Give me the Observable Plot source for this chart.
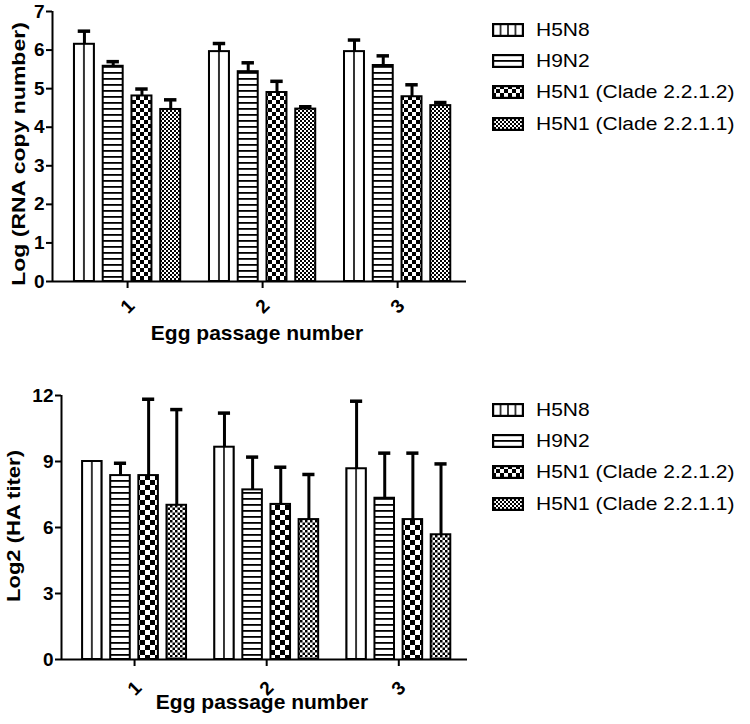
<!DOCTYPE html>
<html>
<head>
<meta charset="utf-8">
<script src="https://cdn.jsdelivr.net/npm/d3@7"></script>
<script src="https://cdn.jsdelivr.net/npm/@observablehq/plot@0.6"></script>
<style>
  html, body { margin: 0; padding: 0; background: #fff; }
  #wrap { position: relative; width: 750px; height: 724px; background: #fff; overflow: hidden; font-family: "Liberation Sans", Arial, sans-serif; color: #000; }
  .abs { position: absolute; }
  .xtitle { font-weight: bold; white-space: nowrap; line-height: 1; transform: translateX(-50%); }
  .ytitle { font-weight: bold; white-space: nowrap; line-height: 1; transform: translate(-50%, -50%) rotate(-90deg) scaleY(0.82); }
  .legend { font-size: 21px; }
  .legend .row { display: flex; align-items: center; height: 31.3px; white-space: pre; }
  .legend .row span { display: inline-block; transform: scaleY(0.86); transform-origin: 0 50%; }
  .legend svg { margin-right: 12px; flex: none; }
</style>
</head>
<body>
<div id="wrap">
  <svg class="abs" width="0" height="0" style="left:0;top:0">
    <defs>
      <pattern id="vl" patternUnits="objectBoundingBox" patternContentUnits="objectBoundingBox" x="0" y="0" width="0.5" height="1">
        <rect width="0.5" height="1" fill="#fff"/>
        <rect x="0" width="0.04" height="1" fill="#000"/>
        <rect x="0.46" width="0.04" height="1" fill="#000"/>
      </pattern>
      <pattern id="vl4" patternUnits="objectBoundingBox" patternContentUnits="objectBoundingBox" x="0" y="0" width="0.25" height="1">
        <rect width="0.25" height="1" fill="#fff"/>
        <rect x="0" width="0.025" height="1" fill="#000"/>
        <rect x="0.225" width="0.025" height="1" fill="#000"/>
      </pattern>
      <pattern id="hl" patternUnits="userSpaceOnUse" x="0" y="0" width="8" height="6">
        <rect width="8" height="6" fill="#fff"/>
        <rect y="0" width="8" height="1.8" fill="#000"/>
      </pattern>
      <pattern id="ck8" patternUnits="userSpaceOnUse" x="0" y="0" width="8" height="8">
        <rect width="8" height="8" fill="#fff"/>
        <rect x="0" y="0" width="4" height="4" fill="#000"/>
        <rect x="4" y="4" width="4" height="4" fill="#000"/>
      </pattern>
      <pattern id="ck10" patternUnits="userSpaceOnUse" x="0" y="0" width="10" height="10">
        <rect width="10" height="10" fill="#fff"/>
        <rect x="0" y="0" width="5" height="5" fill="#000"/>
        <rect x="5" y="5" width="5" height="5" fill="#000"/>
      </pattern>
      <pattern id="fc4" patternUnits="userSpaceOnUse" x="0" y="0" width="4" height="4">
        <rect width="4" height="4" fill="#fff"/>
        <rect x="0" y="0" width="2" height="2" fill="#000"/>
        <rect x="2" y="2" width="2" height="2" fill="#000"/>
      </pattern>
      <pattern id="fc5" patternUnits="userSpaceOnUse" x="0" y="0" width="5" height="5">
        <rect width="5" height="5" fill="#fff"/>
        <rect x="0" y="0" width="2.5" height="2.5" fill="#000"/>
        <rect x="2.5" y="2.5" width="2.5" height="2.5" fill="#000"/>
      </pattern>
    </defs>
  </svg>
  <div id="top" class="abs" style="left:0;top:0"></div>
  <div id="bottom" class="abs" style="left:0;top:360px"></div>
</div>
<script>
// ---------- data ----------
const passages = [1, 2, 3];
const strains = ["H5N8", "H9N2", "H5N1 (Clade 2.2.1.2)", "H5N1 (Clade 2.2.1.1)"];

// Top panel: Log (RNA copy number), mean and SD per egg passage
const rnaH5N8 = [6.15, 5.96, 5.96];
const rnaH5N8SD = [0.34, 0.21, 0.30];
const rnaH9N2 = [5.58, 5.44, 5.60];
const rnaH9N2SD = [0.12, 0.23, 0.25];
const rnaClade2212 = [4.81, 4.90, 4.79];
const rnaClade2212SD = [0.18, 0.29, 0.31];
const rnaClade2211 = [4.46, 4.47, 4.56];
const rnaClade2211SD = [0.25, 0.06, 0.08];
const rnaTicks = [0, 1, 2, 3, 4, 5, 6, 7];

// Bottom panel: Log2 (HA titer), mean and SD per egg passage
const haH5N8 = [9.0, 9.65, 8.67];
const haH5N8SD = [0, 1.55, 3.07];
const haH9N2 = [8.36, 7.71, 7.33];
const haH9N2SD = [0.56, 1.49, 2.05];
const haClade2212 = [8.36, 7.05, 6.36];
const haClade2212SD = [3.47, 1.69, 3.02];
const haClade2211 = [7.01, 6.36, 5.67];
const haClade2211SD = [4.35, 2.05, 3.22];
const haTicks = [0, 3, 6, 9, 12];

const xLabel = "Egg passage number";
const rnaLabel = "Log (RNA copy number)";
const haLabel = "Log2 (HA titer)";

// ---------- helpers ----------
function rowsOf(means, sds) {
  const rows = [];
  strains.forEach((s, k) => passages.forEach((p, i) => rows.push({strain: s, k, passage: p, mean: means[k][i], sd: sds[k][i]})));
  return rows;
}

const STEP = 0.213, HALF = 0.074, CAP = 0.046;
const center = d => d.passage + (d.k - 1.5) * STEP;

function chart(o) {
  const rows = rowsOf(o.means, o.sds);
  const err = rows.filter(d => d.sd > 0);
  return Plot.plot({
    width: o.width, height: o.height,
    marginLeft: o.marginLeft, marginTop: o.marginTop, marginBottom: o.marginBottom, marginRight: o.marginRight,
    style: {fontFamily: "'Liberation Sans', Arial, sans-serif", fontSize: "19px", fontWeight: "bold", background: "transparent", overflow: "visible", color: "#000"},
    x: {domain: o.xDomain},
    y: {domain: [0, o.yMax]},
    color: {type: "ordinal", domain: strains, range: o.fills},
    marks: [
      Plot.rectY(rows, {x1: d => center(d) - HALF, x2: d => center(d) + HALF, y1: 0, y2: "mean", fill: "strain", stroke: "#000", strokeWidth: 2}),
      Plot.ruleX(err, {x: center, y1: "mean", y2: d => d.mean + d.sd, stroke: "#000", strokeWidth: 3}),
      Plot.ruleY(err, {x1: d => center(d) - CAP, x2: d => center(d) + CAP, y: d => d.mean + d.sd, stroke: "#000", strokeWidth: 3.5}),
      Plot.ruleY([0], {stroke: "#000", strokeWidth: 2}),
      Plot.ruleX([o.xDomain[0]], {y1: 0, y2: o.yMax, stroke: "#000", strokeWidth: 2}),
      Plot.axisY({ticks: o.yTicks, tickSize: 6, tickPadding: 2, tickFormat: d => String(d), label: null, stroke: "#000", strokeWidth: 2, fontSize: 19, fontWeight: "bold"}),
      Plot.axisX({ticks: passages, tickSize: 7, tickFormat: () => "", label: null, stroke: "#000", strokeWidth: 2}),
      Plot.text(passages, {x: d => d, y: 0, dy: o.tickDy, rotate: -45, text: d => String(d), textAnchor: "middle", lineAnchor: "middle", fontSize: 19, fontWeight: "bold", fill: "#000"})
    ]
  });
}

// ---------- top panel ----------
const topPlot = chart({
  means: [rnaH5N8, rnaH9N2, rnaClade2212, rnaClade2211],
  sds: [rnaH5N8SD, rnaH9N2SD, rnaClade2212SD, rnaClade2211SD],
  yMax: 7, yTicks: rnaTicks, xDomain: [0.444, 3.51],
  width: 476, height: 321, marginLeft: 52, marginTop: 11, marginBottom: 40, marginRight: 10,
  tickDy: 25,
  fills: ["url(#vl)", "url(#hl)", "url(#ck8)", "url(#fc4)"]
});
document.getElementById("top").appendChild(topPlot);

// ---------- bottom panel ----------
const bottomPlot = chart({
  means: [haH5N8, haH9N2, haClade2212, haClade2211],
  sds: [haH5N8SD, haH9N2SD, haClade2212SD, haClade2211SD],
  yMax: 12, yTicks: haTicks, xDomain: [0.447, 3.52],
  width: 477, height: 339, marginLeft: 61, marginTop: 35, marginBottom: 40, marginRight: 10,
  tickDy: 29,
  fills: ["url(#vl)", "url(#hl)", "url(#ck10)", "url(#fc5)"]
});
document.getElementById("bottom").appendChild(bottomPlot);

// ---------- titles and legends ----------
const wrap = document.getElementById("wrap");
function addDiv(cls, style, text) {
  const d = document.createElement("div");
  d.className = "abs " + cls;
  d.setAttribute("style", style);
  d.textContent = text;
  wrap.appendChild(d);
  return d;
}
addDiv("xtitle", "left:257px;top:322px;font-size:21px;", xLabel);
addDiv("xtitle", "left:262px;top:691px;font-size:21px;", xLabel);
addDiv("ytitle", "left:19px;top:154px;font-size:23px;", rnaLabel);
addDiv("ytitle", "left:14px;top:526px;font-size:22px;", haLabel);

const legendFills = ["url(#vl4)", "url(#hl)", "url(#ck8)", "url(#fc4)"];
function legend(left, top, fills) {
  const box = document.createElement("div");
  box.className = "abs legend";
  box.style.left = left + "px";
  box.style.top = top + "px";
  strains.forEach((s, i) => {
    const row = document.createElement("div");
    row.className = "row";
    row.innerHTML = `<svg width="32" height="14"><rect x="1.1" y="1.1" width="29.8" height="11.8" fill="${fills[i]}" stroke="#000" stroke-width="2.2"/></svg><span></span>`;
    row.querySelector("span").textContent = s;
    box.appendChild(row);
  });
  wrap.appendChild(box);
}
legend(492, 14, legendFills);
legend(492, 394, legendFills);
</script>
</body>
</html>
